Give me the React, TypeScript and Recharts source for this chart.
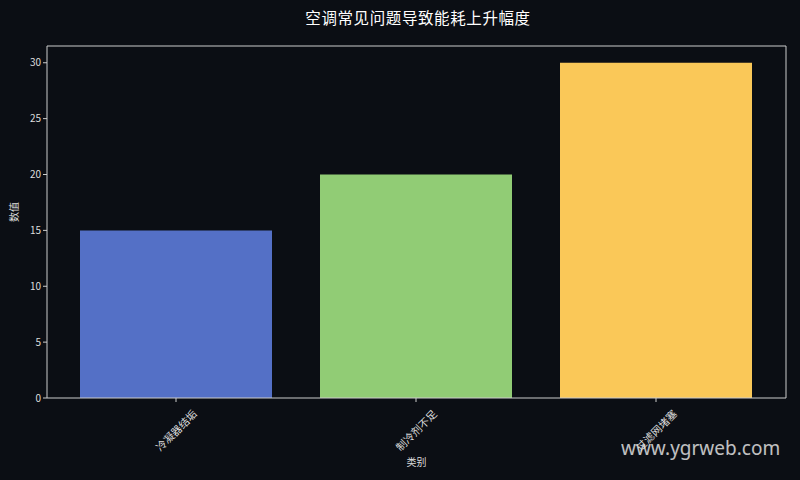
import React from 'react';
import { BarChart, Bar, XAxis, YAxis, Cell } from 'recharts';

const categories = ['冷凝器结垢', '制冷剂不足', '过滤网堵塞'];
const values = [15, 20, 30];
const barColors = ['#5470c6', '#91cc75', '#fac858'];
const yTicks = [0, 5, 10, 15, 20, 25, 30];

const title = '空调常见问题导致能耗上升幅度';
const xLabel = '类别';
const yLabel = '数值';
const watermark = 'www.ygrweb.com';

const font = '"Noto Sans CJK SC", "Noto Sans", sans-serif';
const bg = '#0b0e14';
const axisColor = '#cccccc';
const textColor = '#dddddd';

const data = categories.map((name, i) => ({ name, value: values[i] }));

const RotatedTick = (props: any) => {
  const { x, y, payload } = props;
  return (
    <g transform={`translate(${x},${y + 26}) rotate(-45)`}>
      <text
        x={0}
        y={0}
        textAnchor="middle"
        dominantBaseline="central"
        fill={textColor}
        fontSize={10.5}
        fontFamily={font}
      >
        {payload.value}
      </text>
    </g>
  );
};

const App: React.FC = () => {
  return (
    <div
      style={{
        position: 'fixed',
        left: 0,
        top: 0,
        width: 800,
        height: 480,
        background: bg,
        fontFamily: font,
      }}
    >
      <div
        style={{
          position: 'absolute',
          top: 6,
          left: 0,
          width: 836,
          textAlign: 'center',
          color: '#ffffff',
          fontSize: 15.5,
          letterSpacing: 0.6,
        }}
      >
        {title}
      </div>
      <BarChart
        width={800}
        height={480}
        data={data}
        margin={{ top: 45, right: 13, bottom: 0, left: 0 }}
        barCategoryGap="10%"
      >
        <XAxis
          dataKey="name"
          height={82}
          padding={{ left: 9, right: 10 }}
          stroke={axisColor}
          tickLine={{ stroke: axisColor }}
          tickSize={4}
          tick={<RotatedTick />}
          interval={0}
          label={{
            value: xLabel,
            position: 'insideBottom',
            offset: 14,
            fill: textColor,
            fontSize: 10,
            fontFamily: font,
          }}
        />
        <XAxis
          xAxisId="top"
          dataKey="name"
          orientation="top"
          height={1}
          stroke={axisColor}
          tick={false}
          tickLine={false}
        />
        <YAxis
          width={47}
          domain={[0, 31.5]}
          ticks={yTicks}
          stroke={axisColor}
          tickSize={4}
          tick={{ fill: textColor, fontSize: 10, fontFamily: font }}
          label={{
            value: yLabel,
            angle: -90,
            position: 'insideLeft',
            offset: 14,
            fill: textColor,
            fontSize: 10,
            fontFamily: font,
          }}
        />
        <YAxis
          yAxisId="right"
          orientation="right"
          width={1}
          domain={[0, 31.5]}
          stroke={axisColor}
          tick={false}
          tickLine={false}
        />
        <Bar dataKey="value" isAnimationActive={false}>
          {data.map((d, i) => (
            <Cell key={d.name} fill={barColors[i]} />
          ))}
        </Bar>
      </BarChart>
      <div
        style={{
          position: 'absolute',
          left: 621,
          top: 435,
          color: '#e0e0e0',
          opacity: 0.85,
          fontSize: 19,
          fontFamily: '"Noto Sans", sans-serif',
        }}
      >
        {watermark}
      </div>
    </div>
  );
};

export default App;
